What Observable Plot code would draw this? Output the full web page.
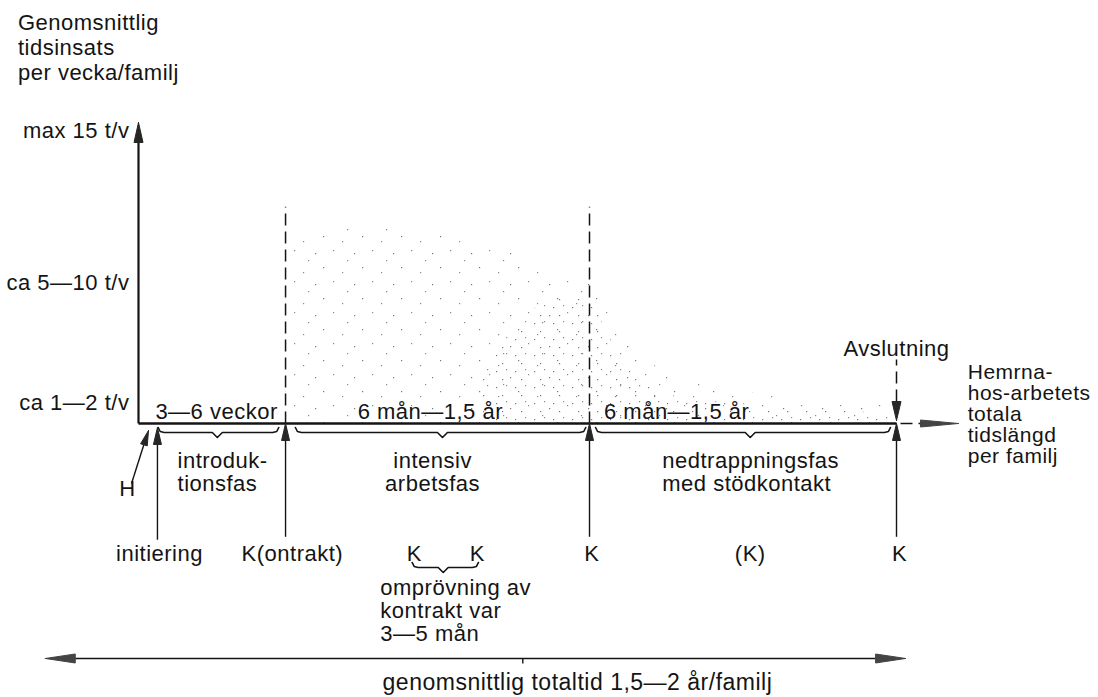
<!DOCTYPE html>
<html><head><meta charset="utf-8">
<script src="https://cdn.jsdelivr.net/npm/d3@7"></script>
<script src="https://cdn.jsdelivr.net/npm/@observablehq/plot@0.6"></script>
<style>body{margin:0;background:#fff}#chart svg{display:block}</style>
</head><body><div id="chart"></div>
<script>
// ---- data (schematic units: x = phase position 0..100 from H to Avslutning, y = hours per week) ----
const titleText = "Genomsnittlig\ntidsinsats\nper vecka/familj";
const yTickLabels = ["ca 1—2 t/v", "ca 5—10 t/v", "max 15 t/v"];
const yTickValues = [1.05, 7.2, 15];

const eventNames = ["initiering", "kontrakt", "K", "avslutning"];
const eventX = [2.5, 19.4, 59.5, 100];

const durationLabels = ["3—6 veckor", "6 mån—1,5 år", "6 mån—1,5 år"];
const durationX = [10.3, 38.5, 71];

const braceStart = [2.6, 20.7, 60.3];
const braceEnd = [18.5, 59.0, 99.2];
const braceTip = [10.4, 40.1, 80.7];

const phaseLabelsLeft = ["introduk-\ntionsfas", "nedtrappningsfas\nmed stödkontakt"];
const phaseXLeft = [5.15, 69.1];
const phaseLabelsMid = ["intensiv\narbetsfas"];
const phaseXMid = [38.8];

const bottomLabels = ["initiering", "K(ontrakt)", "K", "K", "K", "(K)", "K"];
const bottomX = [2.77, 20.3, 36.4, 44.7, 59.8, 80.7, 100.4];

const reviewText = "omprövning av\nkontrakt var\n3—5 mån";
const reviewBrace = [36.1, 44.85, 40.2];

const rightText = "Hemrna-\nhos-arbetets\ntotala\ntidslängd\nper familj";
const endText = "Avslutning";
const totalSpan = [-12.3, 101.2, 50.7];
const captionText = "genomsnittlig totaltid 1,5—2 år/familj";

// stippled effort profile (t/v)
const stippleX   = [19.4, 23, 27, 35, 45, 52, 56, 59.5, 62, 66, 70, 75, 85, 99];
const stippleTop = [8.8, 9.6, 10.2, 9.8, 9.4, 8.4, 7.6, 7.4, 6.0, 3.6, 2.6, 2.0, 1.4, 0.9];
const coreX   = [45, 50, 55, 59.5, 62, 66, 72, 80, 90, 99];
const coreTop = [2.5, 5.0, 6.4, 6.3, 4.5, 2.2, 1.3, 1.0, 0.7, 0.5];

// ---- scales / helpers ----
const xDomain = [0, 100], xRange = [138, 896];
const yDomain = [0, 15], yRange = [423, 130];
const kx = (xRange[1] - xRange[0]) / (xDomain[1] - xDomain[0]);
const ky = (yRange[0] - yRange[1]) / (yDomain[1] - yDomain[0]);
const du = px => px / kx, dv = px => px / ky;

let triId = 0;
function tri(u, v, dx, dy, len, half) { // screen direction (dx,dy), tip at (u,v)
  const n = Math.hypot(dx, dy); dx /= n; dy /= n;
  const id = triId++;
  const bx = -dx * len, by = -dy * len;
  const px = -dy * half, py = dx * half;
  return [
    {x: u, y: v, id},
    {x: u + du(bx + px), y: v - dv(by + py), id},
    {x: u + du(bx - px), y: v - dv(by - py), id},
    {x: u, y: v, id}
  ];
}
let braceId = 0;
function brace(x0, x1, tip, v) {
  const id = braceId++;
  return [
    {x: x0, y: v + dv(5), id}, {x: x0 + du(2), y: v + dv(1), id}, {x: x0 + du(6), y: v, id},
    {x: tip - du(5), y: v, id}, {x: tip, y: v - dv(5), id}, {x: tip + du(5), y: v, id},
    {x: x1 - du(6), y: v, id}, {x: x1 - du(2), y: v + dv(1), id}, {x: x1, y: v + dv(5), id}
  ];
}

const axisTop = 15 + dv(-5);
const triangles = [
  ...tri(0, 15 + dv(8), 0, -1, 20, 4.5),
  ...eventX.map((x, i) => tri(x, i === 0 ? dv(-4) : 0, 0, -1, 17, 4)).flat(),
  ...tri(100, dv(3), 0, 1, 19, 4.5),
  ...tri(1.32, -0.36, 17, -53, 15, 3.5)
];
const greyHeads = [
  ...tri(eventX[3] + du(62), 0, 1, 0, 38, 3.5),
  ...tri(totalSpan[0], -12.03, -1, 0, 30, 4.5),
  ...tri(totalSpan[1], -12.03, 1, 0, 30, 4.5)
];

const braces = [
  ...braceStart.map((s, i) => brace(s, braceEnd[i], braceTip[i], -0.46)).flat(),
  ...brace(reviewBrace[0], reviewBrace[1], reviewBrace[2], -7.37)
];

const solid = [
  {x1: 0, y1: 0, x2: 0, y2: axisTop, w: 2.2},
  {x1: 0, y1: 0, x2: 100, y2: 0, w: 2.6},
  {x1: -0.92, y1: -3.07, x2: 1.1, y2: -0.6, w: 1.4},
  ...eventX.map((x, i) => ({x1: x, y1: -0.8, x2: x, y2: i === 0 ? -5.95 : -5.8, w: 1.4})),
  {x1: totalSpan[0] + du(20), y1: -12.03, x2: totalSpan[1] - du(20), y2: -12.03, w: 1.6},
  {x1: totalSpan[2], y1: -12.03, x2: totalSpan[2], y2: -12.03 - dv(5), w: 1.4}
];
const dashed = [
  {x1: eventX[1], y1: 0, x2: eventX[1], y2: 11.1},
  {x1: eventX[2], y1: 0, x2: eventX[2], y2: 11.1},
  {x1: 100, y1: dv(22), x2: 100, y2: dv(64)},
  {x1: 100 + du(4), y1: 0, x2: 100 + du(24), y2: 0}
];

const F = 22, ink = "#141414";
const svg = Plot.plot({
  width: 1098, height: 697, margin: 0,
  x: {domain: xDomain, range: xRange, axis: null},
  y: {domain: yDomain, range: yRange, axis: null},
  style: {fontFamily: "'Liberation Sans', Arial, sans-serif", letterSpacing: "0.5px", background: "#fff"},
  marks: [
    Plot.areaY(stippleX.map((x, i) => ({x, top: stippleTop[i]})), {x: "x", y1: 0, y2: "top", fill: "url(#stipSparse)", curve: "monotone-x"}),
    Plot.areaY(coreX.map((x, i) => ({x, top: coreTop[i]})), {x: "x", y1: 0, y2: "top", fill: "url(#stipDense)", curve: "monotone-x"}),
    Plot.link(dashed, {x1: "x1", y1: "y1", x2: "x2", y2: "y2", stroke: ink, strokeWidth: 1.5, strokeDasharray: "12,6"}),
    Plot.link(solid, {x1: "x1", y1: "y1", x2: "x2", y2: "y2", stroke: ink, strokeWidth: "w"}),
    Plot.line(braces, {x: "x", y: "y", z: "id", stroke: ink, strokeWidth: 1.6}),
    Plot.line(triangles, {x: "x", y: "y", z: "id", fill: "#262626", stroke: "#262626", strokeWidth: 1}),
    Plot.line(greyHeads, {x: "x", y: "y", z: "id", fill: "#444", stroke: "#444", strokeWidth: 1}),
    Plot.text([titleText], {x: -15.9, y: 19.25, text: d => d, textAnchor: "start", fontSize: F, lineHeight: 1.136, fill: ink}),
    Plot.text(yTickLabels, {x: -1.2, y: (d, i) => yTickValues[i], text: d => d, textAnchor: "end", fontSize: F, fill: ink}),
    Plot.text(durationLabels, {x: (d, i) => durationX[i], y: 0.6, text: d => d, fontSize: F, fill: ink}),
    Plot.text(phaseLabelsLeft, {x: (d, i) => phaseXLeft[i], y: -2.5, text: d => d, textAnchor: "start", fontSize: F, lineHeight: 1.05, fill: ink}),
    Plot.text(phaseLabelsMid, {x: (d, i) => phaseXMid[i], y: -2.5, text: d => d, textAnchor: "middle", fontSize: F, lineHeight: 1.05, fill: ink}),
    Plot.text(bottomLabels, {x: (d, i) => bottomX[i], y: -6.66, text: d => d, fontSize: F, fill: ink}),
    Plot.text([reviewText], {x: 31.9, y: -9.58, text: d => d, textAnchor: "start", fontSize: F, lineHeight: 1.045, fill: ink}),
    Plot.text(["H"], {x: -1.45, y: -3.33, text: d => d, fontSize: F, fill: ink}),
    Plot.text([endText], {x: 100, y: 3.84, text: d => d, fontSize: F, fill: ink}),
    Plot.text([rightText], {x: 109.4, y: 0.46, text: d => d, textAnchor: "start", fontSize: 21, lineHeight: 1.0, fill: ink}),
    Plot.text([captionText], {x: 32.2, y: -13.26, text: d => d, textAnchor: "start", fontSize: 23, fill: ink, style: "letter-spacing:0.7px"})
  ]
});
d3.select(svg).insert("defs", ":first-child").html(`
  <pattern id="stipSparse" patternUnits="userSpaceOnUse" width="39" height="31">
    <rect x="3" y="5" width="1.2" height="1.2" fill="#777"/>
    <rect x="21" y="2" width="1.2" height="1.2" fill="#888"/>
    <rect x="11" y="19" width="1.2" height="1.2" fill="#777"/>
    <rect x="30" y="24" width="1.2" height="1.2" fill="#888"/>
    <rect x="35" y="12" width="1.2" height="1.2" fill="#888"/>
  </pattern>
  <pattern id="stipDense" patternUnits="userSpaceOnUse" width="19" height="16">
    <rect x="2" y="3" width="1.2" height="1.2" fill="#777"/>
    <rect x="12" y="1" width="1.2" height="1.2" fill="#888"/>
    <rect x="8" y="11" width="1.2" height="1.2" fill="#777"/>
  </pattern>`);
document.getElementById("chart").append(svg);
</script></body></html>
